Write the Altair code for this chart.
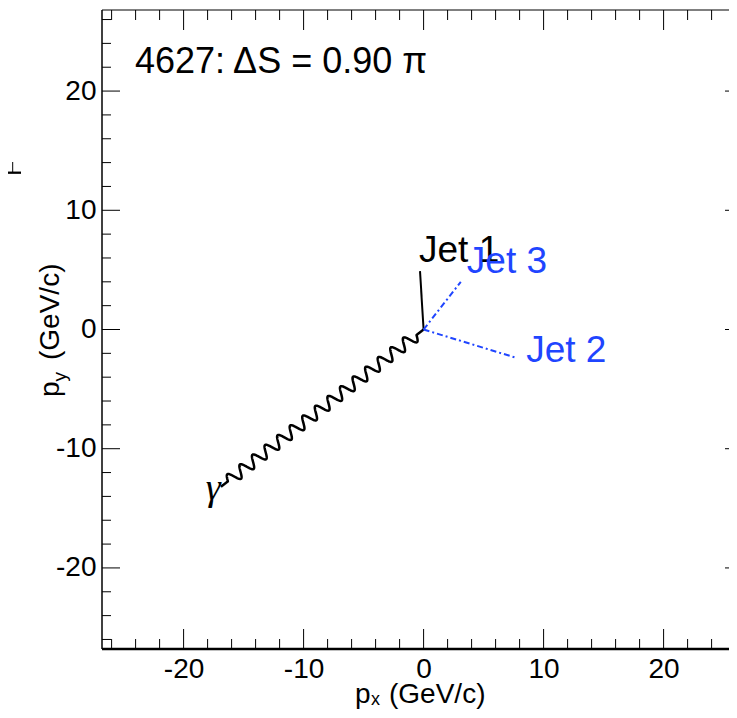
import altair as alt
import pandas as pd

# ---------------- data ----------------
jet_names = ["Jet 1", "Jet 2", "Jet 3"]
jet_px = [-0.3, 7.8, 3.1]
jet_py = [4.9, -2.4, 4.0]

photon_px = [-16.9]
photon_py = [-13.2]
photon_label = ["γ"]

title_text = "4627: ΔS = 0.90 π"

major_ticks = [-20, -10, 0, 10, 20]
minor_ticks = [-26, -24, -22, -18, -16, -14, -12, -8, -6, -4, -2,
               2, 4, 6, 8, 12, 14, 16, 18, 22, 24, 26]

x_domain = [-26.8, 25.45]
y_domain = [-26.8, 26.8]

# ---------------- layout ----------------
W, H = 627, 639
FR = 643          # right frame (outside the visible window)
FONT = "Liberation Sans"
BLUE = "#1f45ff"

xs = alt.Scale(domain=x_domain, nice=False, zero=False)
ys = alt.Scale(domain=y_domain, nice=False, zero=False)

x_axis = alt.Axis(values=major_ticks, ticks=False, domain=False, grid=False,
                  labelFont=FONT, labelFontSize=28, labelColor="black",
                  labelPadding=6, title=None, labelExpr="'' + datum.value")
y_axis = alt.Axis(values=major_ticks, ticks=False, domain=False, grid=False,
                  labelFont=FONT, labelFontSize=28, labelColor="black",
                  labelPadding=6, title=None, labelExpr="'' + datum.value")


def X(f):
    return alt.X(f, type="quantitative", scale=xs, axis=x_axis)


def Y(f):
    return alt.Y(f, type="quantitative", scale=ys, axis=y_axis)


dummy = pd.DataFrame({"a": [0]})
maj = pd.DataFrame({"v": major_ticks})
mnr = pd.DataFrame({"v": minor_ticks})

layers = []

# frame
layers.append(alt.Chart(dummy).mark_rule(color="black", strokeWidth=1).encode(
    x=alt.value(0), x2=alt.value(FR), y=alt.value(0)))
layers.append(alt.Chart(dummy).mark_rule(color="black", strokeWidth=1.5).encode(
    x=alt.value(0), y=alt.value(0), y2=alt.value(H)))
layers.append(alt.Chart(dummy).mark_rule(color="black", strokeWidth=2.5).encode(
    x=alt.value(0), x2=alt.value(FR), y=alt.value(H)))

# stray fragment of a neighbouring pad visible at the far left
layers.append(alt.Chart(dummy).mark_rule(color="black", strokeWidth=2.3).encode(
    x=alt.value(-94), x2=alt.value(-81), y=alt.value(162.7)))
layers.append(alt.Chart(dummy).mark_rule(color="black", strokeWidth=1).encode(
    x=alt.value(-89.3), y=alt.value(152), y2=alt.value(162.7)))

# ticks (ROOT style, inside the frame)
for df, lx, ly in [(maj, 20, 18), (mnr, 10, 9)]:
    layers.append(alt.Chart(df).mark_rule(color="black", strokeWidth=1).encode(
        x=X("v"), y=alt.value(H), y2=alt.value(H - lx)))
    layers.append(alt.Chart(df).mark_rule(color="black", strokeWidth=1).encode(
        x=X("v"), y=alt.value(0), y2=alt.value(lx)))
    layers.append(alt.Chart(df).mark_rule(color="black", strokeWidth=1).encode(
        y=Y("v"), x=alt.value(0), x2=alt.value(ly)))
    layers.append(alt.Chart(df).mark_rule(color="black", strokeWidth=1).encode(
        y=Y("v"), x=alt.value(FR), x2=alt.value(FR - ly - 2)))

# photon (wavy line drawn from the origin to the photon vector)
photon = pd.DataFrame({"px": photon_px, "py": photon_py, "label": photon_label})
N_WAVES, AMP, END = 15, 0.5, 0.035
wave = (
    alt.Chart(photon)
    .transform_calculate(t="sequence(0, 1.0001, 0.0012)")
    .transform_flatten(["t"])
    .transform_calculate(L="sqrt(datum.px*datum.px + datum.py*datum.py)")
    .transform_calculate(u=f"clamp((datum.t - {END})/(1 - 2*{END}), 0, 1)")
    .transform_calculate(w=f"{AMP}*sin(2*PI*{N_WAVES}*datum.u)")
    .transform_calculate(wx="datum.px*datum.t - datum.py/datum.L*datum.w",
                         wy="datum.py*datum.t + datum.px/datum.L*datum.w")
    .mark_line(color="black", strokeWidth=2.5, strokeJoin="round")
    .encode(x=X("wx"), y=Y("wy"), order="t:Q")
)
layers.append(wave)
layers.append(alt.Chart(photon).mark_text(
    font="Liberation Serif", fontStyle="italic", fontSize=38, align="right",
    baseline="alphabetic", dx=0, dy=13, color="black").encode(
    x=X("px"), y=Y("py"), text="label:N"))

# jets: segments from the origin to each jet vector
jets = pd.DataFrame({"name": jet_names, "px": jet_px, "py": jet_py})
jets_seg = alt.Chart(jets).transform_calculate(ox="0", oy="0")
layers.append(jets_seg.transform_filter("datum.name == 'Jet 1'")
              .mark_rule(color="black", strokeWidth=2).encode(
    x=X("ox"), y=Y("oy"), x2="px:Q", y2="py:Q"))
layers.append(jets_seg.transform_filter("datum.name != 'Jet 1'")
              .mark_rule(color=BLUE, strokeWidth=2, strokeDash=[6, 3, 2, 3]).encode(
    x=X("ox"), y=Y("oy"), x2="px:Q", y2="py:Q"))

label_style = [("Jet 1", "black", -1, -9), ("Jet 3", BLUE, 6, -9), ("Jet 2", BLUE, 9, 4)]
for name, col, dx, dy in label_style:
    layers.append(alt.Chart(jets).transform_filter(f"datum.name == '{name}'")
                  .mark_text(font=FONT, fontSize=37, align="left", baseline="alphabetic",
                             dx=dx, dy=dy, color=col)
                  .encode(x=X("px"), y=Y("py"), text="name:N"))

# title
layers.append(alt.Chart(dummy).mark_text(
    font=FONT, fontSize=36, align="left", baseline="alphabetic", color="black").encode(
    x=alt.value(33), y=alt.value(63), text=alt.value(title_text)))


# axis titles
def txt(s, x, y, size=28, angle=0):
    return alt.Chart(dummy).mark_text(
        font=FONT, fontSize=size, align="left", baseline="alphabetic",
        angle=angle, color="black").encode(
        x=alt.value(x), y=alt.value(y), text=alt.value(s))


layers += [
    txt("p", 253, 692.5), txt("x", 269, 694.5, 18), txt("(GeV/c)", 287, 692.5),
    txt("p", -43, 387, 28, 270), txt("y", -36, 371.5, 19, 270), txt("(GeV/c)", -43, 350, 28, 270),
]

chart = alt.layer(*layers).properties(
    width=W, height=H,
    padding={"left": 94, "top": 2, "right": 0, "bottom": 60},
    autosize=alt.AutoSizeParams(type="none"),
    background="white",
).configure_view(stroke=None)

chart.save("out.html", embed_options={"renderer": "svg", "actions": False})
